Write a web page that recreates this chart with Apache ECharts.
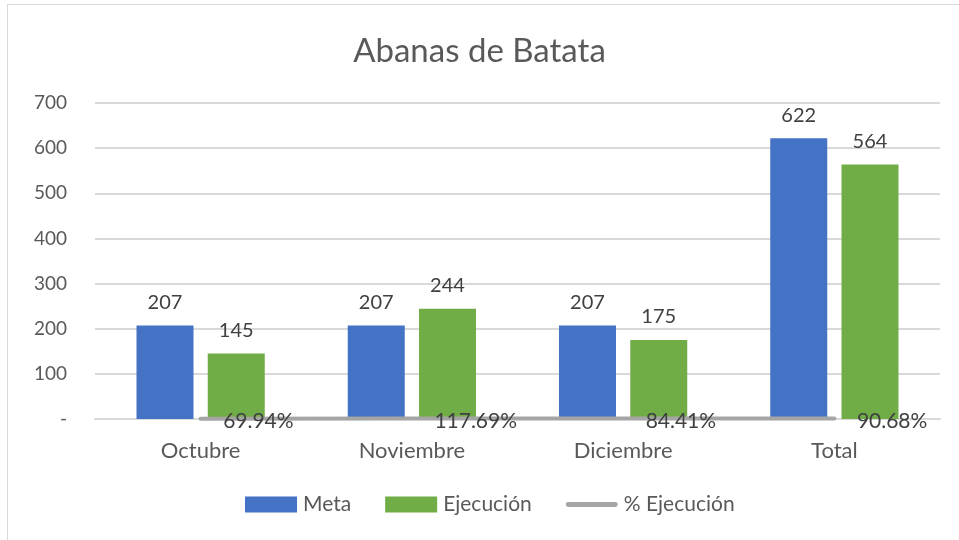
<!DOCTYPE html>
<html>
<head>
<meta charset="utf-8">
<script src="https://cdn.jsdelivr.net/npm/echarts@6/dist/echarts.min.js"></script>
<style>
  html, body { margin: 0; padding: 0; background: #fff; }
  #frame { position: absolute; left: 7px; top: 4px; width: 960px; height: 540px; border: 1px solid #d9d9d9; box-sizing: border-box; }
  #chart { width: 959px; height: 540px; }
</style>
</head>
<body>
<div id="frame"></div>
<div id="chart"></div>
<script>
// datos del grafico
const categorias = ['Octubre', 'Noviembre', 'Diciembre', 'Total'];
const meta = [207, 207, 207, 622];
const ejecucion = [145, 244, 175, 564];
const pctEjecucion = [0.6994, 1.1769, 0.8441, 0.9068];
const ticksY = [0, 100, 200, 300, 400, 500, 600, 700];

const myChart = echarts.init(document.getElementById('chart'), null, { renderer: 'canvas' });
const fuente = 'Lato, "Liberation Sans", sans-serif';
const gris = '#595959';

const option = {
    textStyle: { fontFamily: fuente },
    title: {
        text: 'Abanas de Batata',
        left: 'center',
        top: 30,
        textStyle: { fontFamily: fuente, fontSize: 33, fontWeight: 'normal', color: gris }
    },
    grid: { left: 95, right: 19, top: 103, bottom: 121 },
    legend: {
        bottom: 20,
        left: 240,
        itemWidth: 52,
        itemHeight: 16,
        itemGap: 34,
        textStyle: { fontFamily: fuente, fontSize: 21, color: gris, padding: [0, 0, 0, 1] },
        data: [
            { name: 'Meta', icon: 'rect' },
            { name: 'Ejecución', icon: 'rect' },
            { name: '% Ejecución', icon: 'path://M2,0 H50 A2,2 0 0 1 50,5 H2 A2,2 0 0 1 2,0 Z' }
        ]
    },
    xAxis: {
        type: 'category',
        data: categorias,
        axisLine: { lineStyle: { color: '#d9d9d9', width: 2 } },
        axisTick: { show: false },
        axisLabel: { fontFamily: fuente, fontSize: 22, color: gris, margin: 21 }
    },
    yAxis: {
        type: 'value',
        min: ticksY[0],
        max: ticksY[ticksY.length - 1],
        interval: 100,
        axisLine: { show: false },
        axisTick: { show: false },
        splitLine: { lineStyle: { color: '#d9d9d9', width: 2 } },
        axisLabel: {
            fontFamily: fuente, fontSize: 19, color: gris, margin: 28,
            formatter: v => (v === 0 ? '-' : String(v))
        }
    },
    series: [
        {
            name: 'Meta',
            type: 'bar',
            data: meta,
            barWidth: 57,
            barGap: '25%',
            itemStyle: { color: '#4472c4' },
            label: { show: true, position: 'top', distance: 13, fontFamily: fuente, fontSize: 20, color: '#404040' }
        },
        {
            name: 'Ejecución',
            type: 'bar',
            data: ejecucion,
            barWidth: 57,
            itemStyle: { color: '#70ad47' },
            label: { show: true, position: 'top', distance: 13, fontFamily: fuente, fontSize: 20, color: '#404040' }
        },
        {
            name: '% Ejecución',
            type: 'line',
            data: pctEjecucion,
            z: 5,
            symbol: 'circle',
            symbolSize: 1,
            itemStyle: { color: '#a5a5a5' },
            lineStyle: { color: '#a5a5a5', width: 4, cap: 'round' },
            label: {
                show: true, position: 'right', distance: 22, offset: [0, 3],
                fontFamily: fuente, fontSize: 21, color: '#404040',
                formatter: p => (p.value * 100).toFixed(2) + '%'
            }
        }
    ]
};
myChart.setOption(option);
</script>
</body>
</html>
